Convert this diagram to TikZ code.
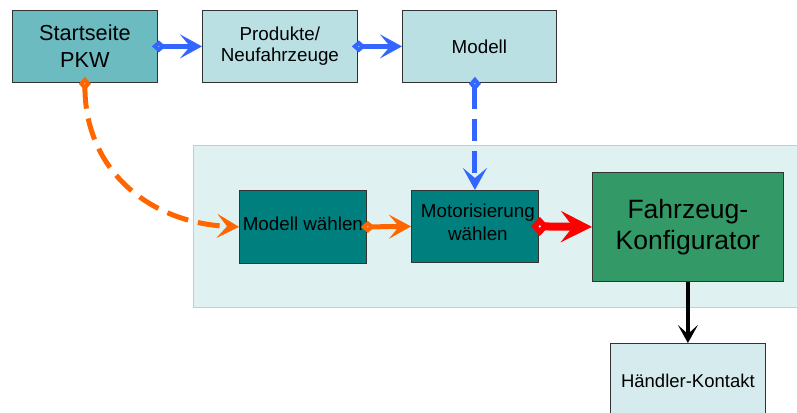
\documentclass[tikz,border=0pt]{standalone}
\usepackage{fontspec}
\setmainfont{Liberation Sans}
\usetikzlibrary{arrows.meta}
\definecolor{startfill}{HTML}{6BBBC1}
\definecolor{pagefill}{HTML}{BAE0E4}
\definecolor{stepfill}{HTML}{007F7F}
\definecolor{konffill}{HTML}{339966}
\definecolor{dealerfill}{HTML}{D5EBEE}
\definecolor{panelfill}{HTML}{E0F1F1}
\definecolor{panelline}{HTML}{C4CCCC}
\definecolor{flowblue}{HTML}{3366FF}
\definecolor{floworange}{HTML}{FF6600}
\definecolor{flowred}{HTML}{FF0000}
\tikzset{
  box/.style={draw=black!80, line width=0.8pt, inner sep=0pt, align=center, anchor=north west},
  flow/.style={line width=5pt, shorten <=-6pt,
    {Diamond[length=14pt, width=12pt, fill=white, line width=4pt]}-{Stealth[length=22pt, width=24pt, inset=10pt]}},
  bigflow/.style={line width=8pt, shorten <=-8pt,
    {Diamond[length=18pt, width=19pt, fill=white, line width=5.5pt]}-{Stealth[length=31pt, width=31pt, inset=12pt]}},
  longdash/.style={dash pattern=on 22pt off 10pt},
}
\begin{document}
\begin{tikzpicture}[x=1pt, y=-1pt]
\useasboundingbox (0,0) rectangle (797,412);
% background panel of the configurator steps
\draw[fill=panelfill, draw=panelline, line width=1pt] (193,145) rectangle (805,307);

% top row of pages
\node[box, fill=startfill, minimum width=145pt, minimum height=72pt,
      font=\fontsize{21.7}{27}\selectfont] (start) at (12,10) {Startseite\\PKW};
\node[box, fill=pagefill, minimum width=155pt, minimum height=72pt,
      font=\fontsize{18.8}{21}\selectfont] (prod) at (202,10) {Produkte/\\Neufahrzeuge};
\node[box, fill=pagefill, minimum width=154pt, minimum height=72pt,
      font=\fontsize{18.8}{21}\selectfont] (modell) at (402,10) {Modell};

% configurator steps
\node[box, fill=stepfill, minimum width=127pt, minimum height=73pt] (mw) at (239,190) {};
\node[font=\fontsize{18.8}{21}\selectfont, inner sep=0pt] at ([yshift=3pt]mw.center) {Modell wählen};
\node[box, fill=stepfill, minimum width=127pt, minimum height=72pt] (motor) at (411,190) {};
\node[font=\fontsize{18.8}{23}\selectfont, inner sep=0pt, align=center]
      at ([xshift=3pt, yshift=4pt]motor.center) {Motorisierung\\wählen};
\node[box, fill=konffill, minimum width=191pt, minimum height=109pt,
      font=\fontsize{26.5}{31}\selectfont] (fk) at (592,172) {Fahrzeug-\\Konfigurator};

% dealer contact, running off the bottom edge
\node[box, fill=dealerfill, minimum width=155pt, minimum height=74pt,
      font=\fontsize{18.5}{21}\selectfont] (hk) at (610,343) {Händler-Kontakt};

% connectors
\draw[flow, flowblue] (start.east) -- (prod.west);
\draw[flow, flowblue] (prod.east) -- (modell.west);
\draw[flow, flowblue, longdash] (motor.north |- modell.south) -- (motor.north);
\draw[flow, floworange, longdash] (start.south) .. controls +(0,88) and +(-89,-4) .. (mw.west);
\draw[flow, floworange] (mw.east) -- (motor.west);
\draw[bigflow, flowred] (motor.east) -- (fk.west);
\draw[line width=3.5pt, -{Stealth[length=18pt, width=20pt, inset=9pt]}] (fk.south) -- (hk.north);
\end{tikzpicture}
\end{document}
